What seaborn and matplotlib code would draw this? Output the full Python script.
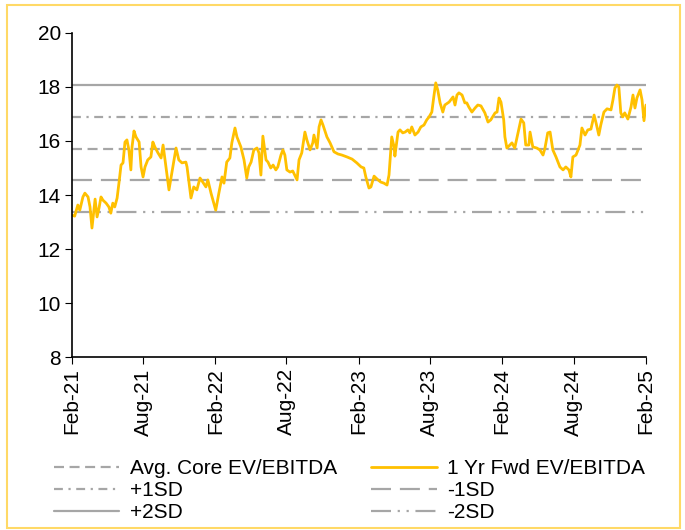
import matplotlib.pyplot as plt
import matplotlib.dates as mdates
from matplotlib.lines import Line2D
from matplotlib.patches import Rectangle
import pandas as pd
import seaborn as sns

# 1 Yr Fwd EV/EBITDA
dates = [
    "2021-02-01", "2021-02-08", "2021-02-16", "2021-02-21", "2021-03-01", "2021-03-06",
    "2021-03-14", "2021-03-19", "2021-03-24", "2021-04-01", "2021-04-06", "2021-04-11",
    "2021-04-16", "2021-04-21", "2021-04-29", "2021-05-06", "2021-05-11", "2021-05-16",
    "2021-05-21", "2021-05-27", "2021-06-01", "2021-06-06", "2021-06-11", "2021-06-16",
    "2021-06-21", "2021-06-26", "2021-07-01", "2021-07-04", "2021-07-09", "2021-07-14",
    "2021-07-22", "2021-07-27", "2021-08-01", "2021-08-06", "2021-08-13", "2021-08-21",
    "2021-08-26", "2021-08-31", "2021-09-08", "2021-09-16", "2021-09-21", "2021-10-06",
    "2021-10-24", "2021-10-31", "2021-11-08", "2021-11-18", "2021-11-21", "2021-12-01",
    "2021-12-08", "2021-12-16", "2021-12-24", "2021-12-31",
    "2022-01-08", "2022-01-13", "2022-01-21", "2022-02-02", "2022-02-10", "2022-02-18",
    "2022-02-23", "2022-03-02", "2022-03-10", "2022-03-15", "2022-03-23", "2022-03-28",
    "2022-04-07", "2022-04-15", "2022-04-22", "2022-04-27", "2022-05-03", "2022-05-10",
    "2022-05-18", "2022-05-23", "2022-05-28", "2022-06-02", "2022-06-10", "2022-06-15",
    "2022-06-22", "2022-06-28", "2022-07-05", "2022-07-10", "2022-07-18", "2022-07-23",
    "2022-07-28", "2022-08-02", "2022-08-10", "2022-08-17", "2022-08-28", "2022-09-02",
    "2022-09-09", "2022-09-17", "2022-09-22", "2022-09-30", "2022-10-07", "2022-10-10",
    "2022-10-18", "2022-10-23", "2022-10-28", "2022-11-02", "2022-11-12", "2022-11-20",
    "2022-11-30", "2022-12-10", "2022-12-20",
    "2023-01-02", "2023-01-15", "2023-01-27", "2023-02-07", "2023-02-14", "2023-02-19",
    "2023-02-27", "2023-03-04", "2023-03-12", "2023-03-22", "2023-03-29", "2023-04-06",
    "2023-04-14", "2023-04-19", "2023-04-26", "2023-05-02", "2023-05-04", "2023-05-12",
    "2023-05-17", "2023-05-24", "2023-05-30", "2023-06-06", "2023-06-11", "2023-06-16",
    "2023-06-24", "2023-07-02", "2023-07-09", "2023-07-17", "2023-07-24", "2023-07-30",
    "2023-08-06", "2023-08-11", "2023-08-16", "2023-08-21", "2023-08-27", "2023-09-03",
    "2023-09-08", "2023-09-19", "2023-09-29", "2023-10-04", "2023-10-09", "2023-10-14",
    "2023-10-22", "2023-10-29", "2023-11-03", "2023-11-08", "2023-11-16", "2023-11-24",
    "2023-12-01", "2023-12-09", "2023-12-19", "2023-12-27",
    "2024-01-03", "2024-01-14", "2024-01-19", "2024-01-24", "2024-01-29", "2024-02-05",
    "2024-02-08", "2024-02-13", "2024-02-18", "2024-02-26", "2024-03-04", "2024-03-15",
    "2024-03-20", "2024-03-27", "2024-04-01", "2024-04-09", "2024-04-12", "2024-04-19",
    "2024-04-29", "2024-05-07", "2024-05-15", "2024-05-20", "2024-05-27", "2024-06-02",
    "2024-06-09", "2024-06-17", "2024-06-27", "2024-07-05", "2024-07-12", "2024-07-20",
    "2024-07-25", "2024-07-30", "2024-08-07", "2024-08-17", "2024-08-22", "2024-08-30",
    "2024-09-06", "2024-09-14", "2024-09-22", "2024-09-27", "2024-10-04", "2024-10-09",
    "2024-10-17", "2024-10-25", "2024-11-04", "2024-11-09", "2024-11-14", "2024-11-19",
    "2024-11-24", "2024-11-29", "2024-12-04", "2024-12-09", "2024-12-17", "2024-12-25",
    "2024-12-30",
    "2025-01-04", "2025-01-09", "2025-01-17", "2025-01-22", "2025-01-27", "2025-02-01",
]
fwd_ev_ebitda = [
    13.26, 13.22, 13.63, 13.44, 13.93, 14.07,
    13.93, 13.56, 12.78, 13.85, 13.19, 13.52,
    13.93, 13.81, 13.70, 13.56, 13.33, 13.70,
    13.56, 13.89, 14.48, 15.11, 15.19, 15.96,
    16.04, 15.67, 14.93, 15.78, 16.37, 16.15,
    15.96, 15.04, 14.67, 15.04, 15.30, 15.41,
    15.96, 15.78, 15.56, 15.37, 15.85, 14.19,
    15.74, 15.30, 15.19, 15.22, 15.04, 13.89,
    14.30, 14.19, 14.63, 14.48,
    14.30, 14.56, 14.07, 13.44, 14.07, 14.67,
    14.44, 15.22, 15.37, 15.93, 16.48, 16.15,
    15.78, 15.30, 14.63, 15.04, 15.22, 15.67,
    15.74, 15.56, 14.74, 16.18, 15.30, 15.22,
    15.00, 15.11, 14.93, 15.04, 15.48, 15.67,
    15.48, 14.93, 14.85, 14.89, 14.56, 15.30,
    15.56, 16.33, 16.04, 15.67, 15.93, 16.22,
    15.74, 16.52, 16.78, 16.59, 16.15, 15.93,
    15.60, 15.52, 15.48,
    15.41, 15.33, 15.19, 15.04, 15.00, 14.67,
    14.26, 14.30, 14.70, 14.56, 14.48, 14.44,
    14.37, 14.74, 16.15, 15.78, 15.44, 16.33,
    16.41, 16.30, 16.33, 16.41, 16.30, 16.52,
    16.22, 16.33, 16.52, 16.59, 16.78, 16.89,
    17.07, 17.63, 18.15, 17.89, 17.41, 17.07,
    17.33, 17.44, 17.63, 17.33, 17.70, 17.78,
    17.70, 17.41, 17.41, 17.26, 17.07, 17.22,
    17.33, 17.30, 17.04, 16.70,
    16.78, 17.04, 17.07, 17.59, 17.44, 16.78,
    16.15, 15.74, 15.81, 15.93, 15.74, 16.48,
    16.81, 16.67, 15.85, 15.85, 16.33, 15.78,
    15.74, 15.67, 15.48, 15.74, 16.30, 16.33,
    15.67, 15.41, 15.04, 14.93, 15.04, 14.93,
    14.67, 15.41, 15.48, 15.85, 16.48, 16.22,
    16.41, 16.44, 16.96, 16.67, 16.22, 16.59,
    17.07, 17.19, 17.15, 17.52, 17.96, 18.07,
    18.00, 17.04, 16.89, 17.04, 16.81, 17.26,
    17.70,
    17.22, 17.59, 17.89, 17.52, 16.75, 17.33,
]

# valuation bands
avg_core = 15.72
plus_1sd = 16.89
minus_1sd = 14.55
plus_2sd = 18.06
minus_2sd = 13.38

x_ticks = pd.date_range("2021-02-01", "2025-02-01", freq="6MS")

df = pd.DataFrame({"date": pd.to_datetime(dates), "value": fwd_ev_ebitda})

sns.set_style("ticks")
plt.rcParams["font.family"] = ["Liberation Sans", "DejaVu Sans"]
plt.rcParams["text.color"] = "black"

gray = "#A6A6A6"
gold = "#FFC000"
lw = 1.6
fs = 15

fig = plt.figure(figsize=(6.85, 5.30), dpi=100)
ax = fig.add_axes([0.105, 0.326, 0.838, 0.612])

band_styles = [
    (avg_core, (0, (4.5, 2.5)), "Avg. Core EV/EBITDA"),
    (plus_1sd, (0, (4, 2.5, 1, 2.5)), "+1SD"),
    (plus_2sd, "-", "+2SD"),
    (minus_1sd, (0, (9, 4)), "-1SD"),
    (minus_2sd, (0, (9, 3, 1, 3, 1, 3)), "-2SD"),
]
handles = {}
for level, ls, name in band_styles:
    ax.axhline(level, color=gray, linestyle=ls, linewidth=lw)
    handles[name] = Line2D([], [], color=gray, linestyle=ls, linewidth=lw)

sns.lineplot(data=df, x="date", y="value", ax=ax, color=gold, linewidth=2.0)
handles["1 Yr Fwd EV/EBITDA"] = Line2D([], [], color=gold, linewidth=2.0)

ax.set_xlim(pd.Timestamp("2021-02-01"), pd.Timestamp("2025-02-01"))
ax.set_ylim(8, 20)
ax.set_yticks(range(8, 21, 2))
ax.set_xticks(x_ticks)
ax.xaxis.set_major_formatter(mdates.DateFormatter("%b-%y"))
ax.tick_params(axis="x", labelrotation=90, labelsize=fs, length=5, color="black",
               labelcolor="black", pad=3)
ax.tick_params(axis="y", labelsize=fs, length=5, color="black", labelcolor="black", pad=3)
ax.set_xlabel("")
ax.set_ylabel("")
for s in ["left", "bottom"]:
    ax.spines[s].set_color("black")
    ax.spines[s].set_linewidth(1.2)
sns.despine(ax=ax)

order = ["Avg. Core EV/EBITDA", "+1SD", "+2SD", "1 Yr Fwd EV/EBITDA", "-1SD", "-2SD"]
fig.legend([handles[k] for k in order], order, ncol=2, loc="center",
           bbox_to_anchor=(0.51, 0.074), frameon=False, fontsize=fs,
           handlelength=3.15, handletextpad=0.5, columnspacing=1.65,
           labelspacing=0.15, borderpad=0.2, labelcolor="black")

fig.patches.append(Rectangle((0.0102, 0.004), 0.9825, 0.9866, transform=fig.transFigure,
                             fill=False, edgecolor="#FFD966", linewidth=1.5))

fig.savefig("out.png", dpi=100)
